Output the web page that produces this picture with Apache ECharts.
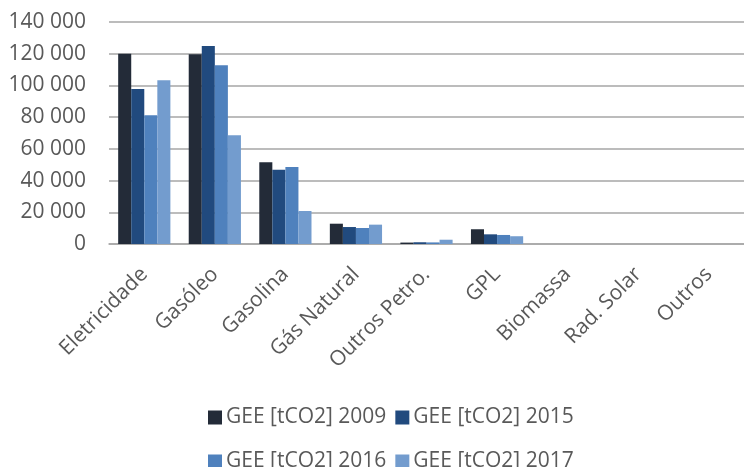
<!DOCTYPE html>
<html>
<head>
<meta charset="utf-8">
<script src="https://cdn.jsdelivr.net/npm/echarts@6/dist/echarts.min.js"></script>
<style>
  html, body { margin: 0; padding: 0; background: #fff; }
  #chart { width: 744px; height: 467px; }
</style>
</head>
<body>
<div id="chart"></div>
<script>
// Energy sources on the category axis
const categories = ['Eletricidade', 'Gasóleo', 'Gasolina', 'Gás Natural', 'Outros Petro.', 'GPL', 'Biomassa', 'Rad. Solar', 'Outros'];

// GHG emissions per source, tCO2
const gee2009 = [120000, 119700, 51600, 12800, 900, 9300, 0, 0, 0];
const gee2015 = [97700, 124800, 46900, 10700, 1100, 6100, 0, 0, 0];
const gee2016 = [81200, 112800, 48600, 10100, 1000, 5700, 0, 0, 0];
const gee2017 = [103300, 68600, 20800, 12200, 2700, 4900, 0, 0, 0];

const seriesNames = ['GEE [tCO2] 2009', 'GEE [tCO2] 2015', 'GEE [tCO2] 2016', 'GEE [tCO2] 2017'];
const seriesColors = ['#232B38', '#214A7E', '#4F81BD', '#739CCE'];

const font = '"Open Sans", "Liberation Sans", sans-serif';
const chart = echarts.init(document.getElementById('chart'));

function fmt(v) {
  return String(v).replace(/\B(?=(\d{3})+(?!\d))/g, ' ');
}

const legendText = { fontFamily: font, fontSize: 21, color: '#595959', padding: [0, 0, 0, -1] };
const legendBase = {
  left: 203,
  itemWidth: 14, itemHeight: 14, itemGap: 9,
  icon: 'rect', textStyle: legendText
};

chart.setOption({
  animation: false,
  grid: { left: 109, right: 0, top: 22, bottom: 223 },
  legend: [
    Object.assign({ data: seriesNames.slice(0, 2), top: 402 }, legendBase),
    Object.assign({ data: seriesNames.slice(2, 4), top: 446 }, legendBase)
  ],
  xAxis: {
    type: 'category',
    data: categories,
    axisLine: { lineStyle: { color: '#a6a6a6', width: 1.5 } },
    axisTick: { show: false },
    axisLabel: {
      rotate: 45, interval: 0, margin: 27,
      fontFamily: font, fontSize: 21, color: '#595959'
    }
  },
  yAxis: {
    type: 'value',
    min: 0, max: 140000, interval: 20000,
    axisLine: { show: false },
    axisTick: { show: false },
    splitLine: { lineStyle: { color: '#a6a6a6', width: 1.5 } },
    axisLabel: {
      margin: 23, fontFamily: font, fontSize: 21, color: '#595959',
      formatter: fmt
    }
  },
  series: [gee2009, gee2015, gee2016, gee2017].map((d, i) => ({
    name: seriesNames[i],
    type: 'bar',
    data: d,
    barGap: '0%',
    barCategoryGap: '26%',
    itemStyle: { color: seriesColors[i] }
  }))
});
</script>
</body>
</html>
